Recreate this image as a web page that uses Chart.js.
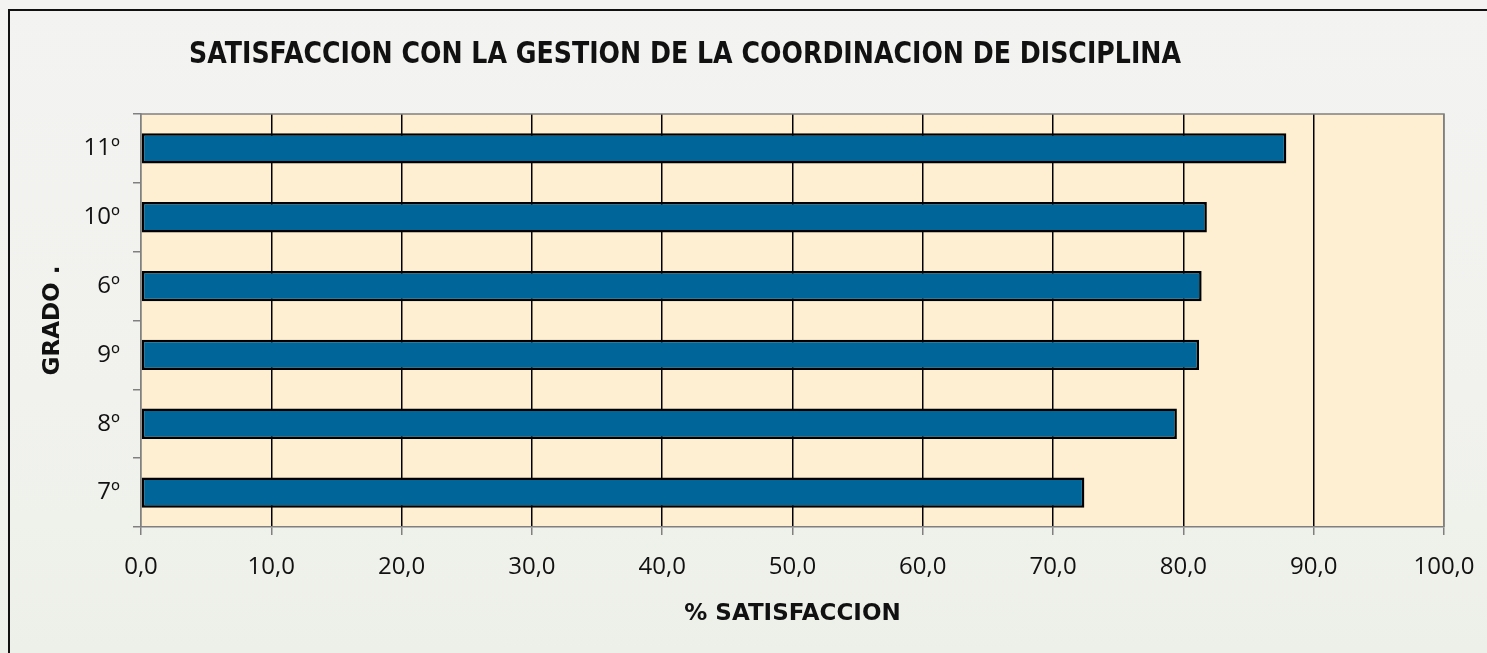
<!DOCTYPE html>
<html>
<head>
<meta charset="utf-8">
<script src="https://cdn.jsdelivr.net/npm/chart.js@4.4.1/dist/chart.umd.min.js"></script>
<style>
  html, body { margin: 0; padding: 0; }
  body { width: 1487px; height: 653px; overflow: hidden; position: relative;
         background: linear-gradient(180deg, #f3f3f1 0%, #f1f2ee 60%, #edf0e8 100%); }
  #frame { position: absolute; left: 8px; top: 9px; width: 1600px; height: 800px;
           border-left: 2px solid #111; border-top: 2px solid #111; }
  #c { position: absolute; left: 0; top: 0; }
</style>
</head>
<body>
<div id="frame"></div>
<canvas id="c" width="1487" height="653"></canvas>
<script>
const chartTitle = 'SATISFACCION CON LA GESTION DE LA COORDINACION DE DISCIPLINA';
const xAxisTitle = '% SATISFACCION';
const yAxisTitle = 'GRADO .';
const categories = ['11º', '10º', '6º', '9º', '8º', '7º'];
const satisfaction = [87.9, 81.8, 81.4, 81.2, 79.5, 72.4];
const xMin = 0, xMax = 100, xStep = 10;

const bgPlugin = {
  id: 'bgPlugin',
  beforeDraw(chart) {
    const { ctx, chartArea: a } = chart;
    ctx.save();
    ctx.fillStyle = '#FFEFD2';
    ctx.fillRect(a.left, a.top, a.right - a.left, a.bottom - a.top);
    ctx.restore();
  },
  afterDraw(chart) {
    const { ctx, chartArea: a } = chart;
    ctx.save();
    ctx.strokeStyle = '#808080';
    ctx.lineWidth = 1.5;
    ctx.beginPath();
    ctx.moveTo(a.left, a.top);
    ctx.lineTo(a.right, a.top);
    ctx.lineTo(a.right, a.bottom);
    ctx.stroke();
    ctx.fillStyle = '#111';
    ctx.font = 'bold 31px "DejaVu Sans"';
    ctx.textAlign = 'center';
    ctx.textBaseline = 'middle';
    ctx.fillText(chartTitle, 685, 55, 992);
    ctx.restore();
  }
};

new Chart(document.getElementById('c'), {
  type: 'bar',
  data: {
    labels: categories,
    datasets: [{
      data: satisfaction,
      backgroundColor: '#006699',
      borderColor: '#000000',
      borderWidth: 2.5,
      borderSkipped: false,
      categoryPercentage: 1,
      barPercentage: 0.44
    }]
  },
  plugins: [bgPlugin],
  options: {
    indexAxis: 'y',
    responsive: false,
    animation: false,
    devicePixelRatio: 1,
    layout: { padding: { top: 114, right: 43, left: 0, bottom: 0 } },
    plugins: { legend: { display: false }, tooltip: { enabled: false }, title: { display: false } },
    scales: {
      x: {
        min: xMin, max: xMax,
        afterFit(s) { s.height = 126; s.paddingRight = 0; s.paddingLeft = 0; },
        ticks: {
          stepSize: xStep,
          color: '#111',
          padding: 18,
          maxRotation: 0,
          font: { family: 'Open Sans', size: 24 },
          callback: v => Number(v).toFixed(1).replace('.', ',')
        },
        grid: {
          color: ctx => (ctx.tick && (ctx.tick.value === xMax || ctx.tick.value === xMin)) ? '#808080' : '#000000',
          lineWidth: 1.5,
          tickColor: '#808080',
          tickLength: 8
        },
        border: { color: '#808080', width: 1.5 },
        title: {
          display: true, text: xAxisTitle, color: '#111',
          font: { family: 'DejaVu Sans', size: 23, weight: 'bold' },
          padding: { top: 0, bottom: 25 }
        }
      },
      y: {
        afterFit(s) { s.width = 141; },
        ticks: {
          color: '#111',
          padding: 13,
          font: { family: 'Open Sans', size: 24 }
        },
        grid: {
          drawOnChartArea: false,
          tickColor: '#808080',
          tickLength: 8,
          lineWidth: 1.5
        },
        border: { color: '#808080', width: 1.5 },
        title: {
          display: true, text: yAxisTitle, color: '#111',
          font: { family: 'DejaVu Sans', size: 23, weight: 'bold' },
          padding: { top: 39, bottom: 0 }
        }
      }
    }
  }
});
</script>
</body>
</html>
